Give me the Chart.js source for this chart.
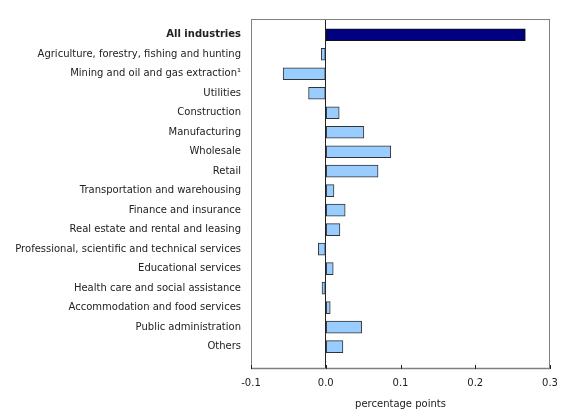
<!DOCTYPE html>
<html><head><meta charset="utf-8">
<script src="https://cdn.jsdelivr.net/npm/chart.js@4/dist/chart.umd.min.js"></script>
<style>html,body{margin:0;padding:0;background:#fff}#wrap{width:580px;height:410px}</style>
</head><body><div id="wrap"><canvas id="c" width="580" height="410"></canvas></div>
<script>
const categories = ["All industries","Agriculture, forestry, fishing and hunting","Mining and oil and gas extraction\u00b9","Utilities","Construction","Manufacturing","Wholesale","Retail","Transportation and warehousing","Finance and insurance","Real estate and rental and leasing","Professional, scientific and technical services","Educational services","Health care and social assistance","Accommodation and food services","Public administration","Others"];
const values = [0.267,-0.006,-0.057,-0.023,0.018,0.051,0.087,0.070,0.011,0.026,0.019,-0.010,0.010,-0.005,0.006,0.048,0.023];
const xTicks = [-0.1,0.0,0.1,0.2,0.3];
const xTitle = "percentage points";

const FONT = "'DejaVu Sans', Verdana, sans-serif";
const framePlugin = {
  id:'frame',
  afterDatasetsDraw(chart){
    const {ctx, chartArea:a, scales:{x}} = chart;
    ctx.save();
    ctx.strokeStyle = '#808080';
    ctx.lineWidth = 1;
    ctx.strokeRect(a.left+0.5, a.top+0.5, a.right-a.left-1, a.bottom-a.top-1);
    ctx.lineWidth = 1.5;
    ctx.beginPath(); ctx.moveTo(a.left, a.bottom-0.5); ctx.lineTo(a.right, a.bottom-0.5); ctx.stroke();
    ctx.strokeStyle = '#222';
    ctx.lineWidth = 1;
    xTicks.forEach(v=>{
      const px = Math.round(x.getPixelForValue(v))+0.5;
      ctx.beginPath(); ctx.moveTo(px, a.bottom); ctx.lineTo(px, a.bottom-4); ctx.stroke();
    });
    ctx.restore();
  }
};
new Chart(document.getElementById('c'), {
  type:'bar',
  data:{datasets:[{
    data: values.map((v,i)=>({x:v, y:i})),
    backgroundColor: values.map((v,i)=> i===0 ? '#000080' : '#99ccff'),
    borderColor: values.map((v,i)=> i===0 ? '#111' : '#333'),
    borderWidth: 1,
    borderSkipped: false,
    barThickness: 12
  }]},
  options:{
    indexAxis:'y',
    responsive:false, animation:false,
    layout:{padding:{left:0,right:30,top:19,bottom:0}},
    plugins:{legend:{display:false}, tooltip:{enabled:false}},
    scales:{
      y:{
        type:'linear', reverse:true, min:-0.81, max:17.15, offset:false,
        afterBuildTicks(s){ s.ticks = categories.map((c,i)=>({value:i})); },
        afterFit(s){ s.width = 251; },
        grid:{display:false, drawTicks:false, offset:false}, border:{display:false},
        ticks:{
          padding:10, autoSkip:false, color:'#222',
          callback:(v)=> categories[v] ?? '',
          font:(c)=> ({family:FONT, size:10, weight: (c.tick && c.tick.value===0) ? 'bold' : 'normal'})
        }
      },
      x:{
        type:'linear', min:-0.1, max:0.3,
        afterBuildTicks(s){ s.ticks = xTicks.map(v=>({value:v})); },
        afterFit(s){ s.height = 41; },
        grid:{drawTicks:false, color:(c)=> (c.tick && Math.abs(c.tick.value)<1e-9) ? '#222' : 'rgba(0,0,0,0)', lineWidth:1},
        border:{display:false},
        ticks:{padding:8, color:'#222', font:{family:FONT,size:10}, callback:(v)=> Number(v).toFixed(1)},
        title:{display:true, text:xTitle, color:'#222', font:{family:FONT,size:10}, padding:{top:6,bottom:0}}
      }
    }
  },
  plugins:[framePlugin]
});
</script></body></html>
